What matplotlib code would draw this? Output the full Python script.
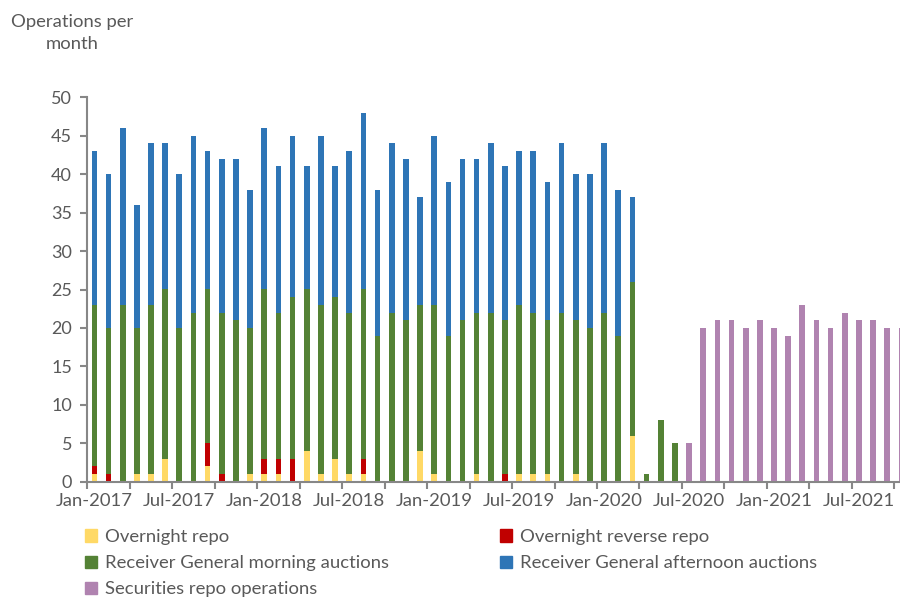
import matplotlib
matplotlib.use("Agg")
import matplotlib.pyplot as plt
from matplotlib.patches import Patch
import numpy as np
import pandas as pd

plt.rcParams['font.family'] = ['Lato', 'DejaVu Sans']

# monthly categories Jan-2017 .. Oct-2021
months = pd.date_range("2017-01-01", "2021-10-01", freq="MS")
n = len(months)

# overnight repo
overnight_repo = [1, 0, 0, 1, 1, 3, 0, 0, 2, 0, 0, 1, 1, 1, 0, 4, 1, 3, 1, 1,
                  0, 0, 0, 4, 1, 0, 0, 1, 0, 0, 1, 1, 1, 0, 1, 0, 0, 0, 6]
# overnight reverse repo
overnight_reverse = [1, 1, 0, 0, 0, 0, 0, 0, 3, 1, 0, 0, 2, 2, 3, 0, 0, 0, 0, 2,
                     0, 0, 0, 0, 0, 0, 0, 0, 0, 1, 0, 0, 0, 0, 0, 0, 0, 0, 0]
# Receiver General morning auctions
rg_morning = [21, 19, 23, 19, 22, 22, 20, 22, 20, 21, 21, 19, 22, 19, 21, 21, 22, 21, 21, 22,
              19, 22, 21, 19, 22, 19, 21, 21, 22, 20, 22, 21, 20, 22, 20, 20, 22, 19, 20,
              1, 8, 5]
# Receiver General afternoon auctions
rg_afternoon = [20, 20, 23, 16, 21, 19, 20, 23, 18, 20, 21, 18, 21, 19, 21, 16, 22, 17, 21, 23,
                19, 22, 21, 14, 22, 20, 21, 20, 22, 20, 20, 21, 18, 22, 19, 20, 22, 19, 11]
# securities repo operations (from Jul-2020)
sec_repo = [5, 20, 21, 21, 20, 21, 20, 19, 23, 21, 20, 22, 21, 21, 20, 20]


def pad_front(vals):
    out = np.zeros(n)
    out[:len(vals)] = vals
    return out


yellow = pad_front(overnight_repo)
red = pad_front(overnight_reverse)
green = pad_front(rg_morning)
blue = pad_front(rg_afternoon)
purple = np.zeros(n)
purple[n - len(sec_repo):] = sec_repo

c_yellow = "#FFD966"
c_red = "#C00000"
c_green = "#548235"
c_blue = "#2E75B6"
c_purple = "#B083B0"
txt = "#595959"
axc = "#878787"

fig = plt.figure(figsize=(9, 6), dpi=100)
ax = fig.add_axes([0.097, 0.197, 0.903, 0.641])

x = np.arange(n)
w = 0.4
ax.bar(x, yellow, w, color=c_yellow)
ax.bar(x, red, w, bottom=yellow, color=c_red)
ax.bar(x, green, w, bottom=yellow + red, color=c_green)
ax.bar(x, blue, w, bottom=yellow + red + green, color=c_blue)
ax.bar(x, purple, w, color=c_purple)

ax.set_ylim(0, 50)
ax.set_xlim(-0.5, 56.9)
ax.set_yticks(range(0, 51, 5))

ax.set_xticks(np.arange(-0.5, n, 3), minor=False)
ax.set_xticklabels([])
lab_pos = np.arange(0, n, 6)
ax.set_xticks(lab_pos, minor=True)
ax.set_xticklabels([months[i].strftime("%b-%Y") for i in lab_pos], minor=True)
ax.tick_params(axis='x', which='minor', length=0, pad=8, labelsize=13.3, labelcolor=txt)
ax.tick_params(axis='x', which='major', length=5, color=axc, width=1.5, direction='out')
ax.tick_params(axis='y', length=5, color=axc, width=1.5, pad=6, labelsize=13, labelcolor=txt)

for s in ['top', 'right']:
    ax.spines[s].set_visible(False)
for s in ['left', 'bottom']:
    ax.spines[s].set_color(axc)
    ax.spines[s].set_linewidth(1.5)

fig.text(72 / 900, 1 - 33 / 600, "Operations per\nmonth", ha='center', va='center',
         fontsize=13.3, color=txt, linespacing=1.4)

col1 = [Patch(color=c_yellow, label="Overnight repo"),
        Patch(color=c_green, label="Receiver General morning auctions"),
        Patch(color=c_purple, label="Securities repo operations")]
col2 = [Patch(color=c_red, label="Overnight reverse repo"),
        Patch(color=c_blue, label="Receiver General afternoon auctions")]
kw = dict(frameon=False, fontsize=13.3, labelcolor=txt, handlelength=0.65, handleheight=0.65,
          handletextpad=0.45, labelspacing=0.55, borderpad=0, borderaxespad=0, loc='upper left')
fig.legend(handles=col1, bbox_to_anchor=(85 / 900, 1 - 529 / 600), **kw)
fig.legend(handles=col2, bbox_to_anchor=(500 / 900, 1 - 529 / 600), **kw)

fig.savefig("out.png", dpi=100)
